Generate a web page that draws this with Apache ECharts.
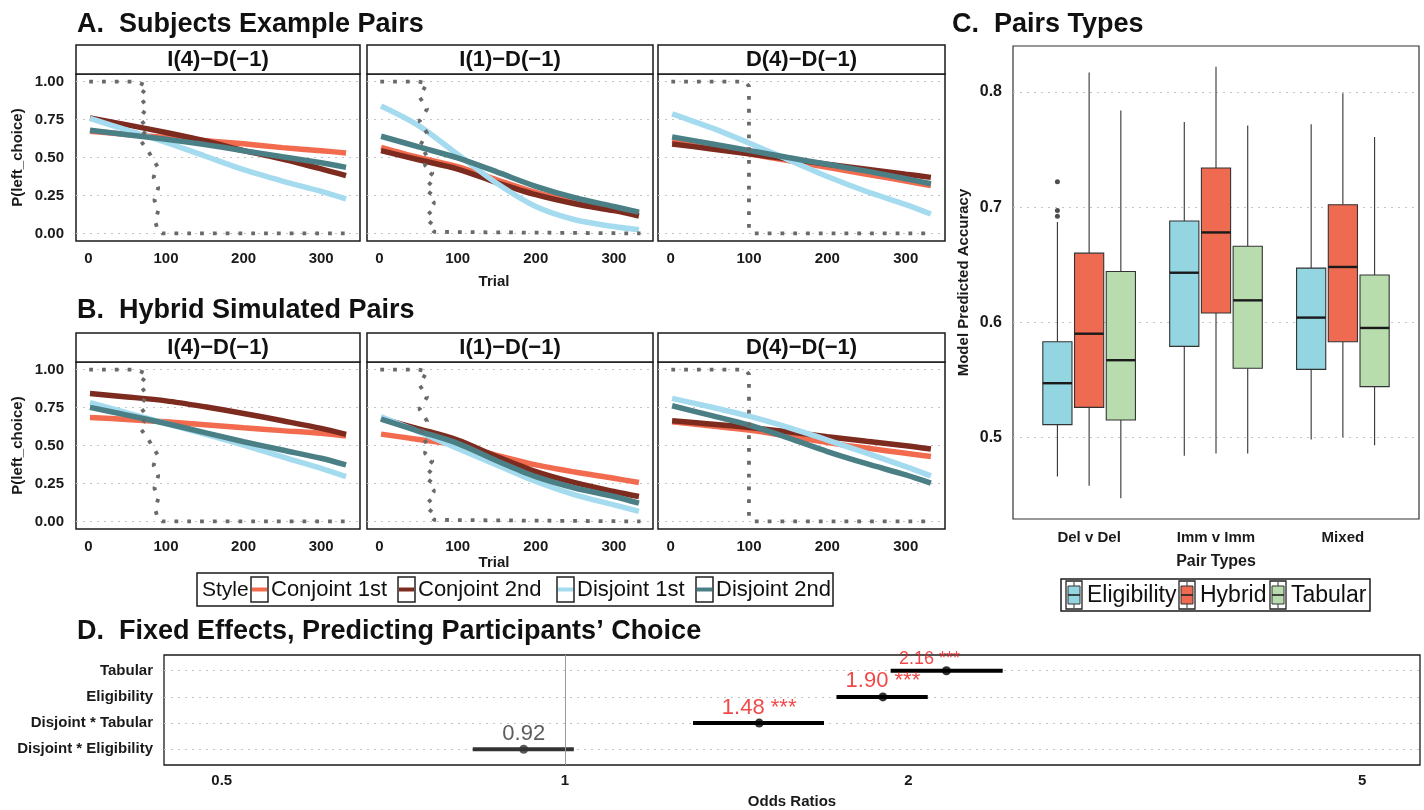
<!DOCTYPE html>
<html lang="en">
<head>
    <meta charset="UTF-8">
    <title>Pairs figure</title>
    <script src="https://cdn.jsdelivr.net/npm/echarts@6/dist/echarts.min.js"></script>
    <style>
        html, body, #main {
            margin: 0;
            width: 1424px;
            height: 810px;
            background: #fff;
        }
    </style>
</head>
<body>
<div id="main"></div>
<script>
    var FONT = "'Liberation Sans', Arial, Helvetica, sans-serif";

    // ---- panels A / B ----
    var facets = ['I(4)\u2212D(\u22121)', 'I(1)\u2212D(\u22121)', 'D(4)\u2212D(\u22121)'];
    var styles = ['Conjoint 1st', 'Conjoint 2nd', 'Disjoint 1st', 'Disjoint 2nd'];
    var styleColors = ['#f26b4f', '#7e2b1f', '#a5dbef', '#4b7f86'];
    var trials = [2, 50, 100, 150, 200, 250, 300, 332];
    var trialTicks = [0, 100, 200, 300];
    var probTicks = [0, 0.25, 0.5, 0.75, 1];

    // P(left_choice) at each trial, one row per style
    var subjectsI4 = [
        [0.673, 0.652, 0.632, 0.61, 0.59, 0.565, 0.545, 0.53],
        [0.76, 0.715, 0.665, 0.61, 0.545, 0.49, 0.425, 0.38],
        [0.757, 0.68, 0.60, 0.51, 0.42, 0.345, 0.277, 0.227],
        [0.68, 0.65, 0.62, 0.585, 0.545, 0.505, 0.465, 0.435]
    ];
    var subjectsI1 = [
        [0.567, 0.50, 0.44, 0.353, 0.27, 0.21, 0.166, 0.132],
        [0.545, 0.485, 0.424, 0.335, 0.255, 0.195, 0.15, 0.115],
        [0.839, 0.71, 0.52, 0.33, 0.177, 0.09, 0.045, 0.024],
        [0.64, 0.57, 0.497, 0.405, 0.31, 0.235, 0.177, 0.14]
    ];
    var subjectsD4 = [
        [0.611, 0.567, 0.524, 0.48, 0.435, 0.39, 0.345, 0.316],
        [0.589, 0.558, 0.524, 0.49, 0.456, 0.423, 0.39, 0.369],
        [0.788, 0.70, 0.596, 0.486, 0.375, 0.276, 0.19, 0.128],
        [0.636, 0.592, 0.547, 0.50, 0.455, 0.41, 0.36, 0.327]
    ];
    var hybridI4 = [
        [0.685, 0.671, 0.656, 0.637, 0.617, 0.598, 0.58, 0.562],
        [0.842, 0.82, 0.794, 0.755, 0.711, 0.663, 0.613, 0.573],
        [0.783, 0.715, 0.645, 0.575, 0.503, 0.425, 0.35, 0.295],
        [0.751, 0.70, 0.645, 0.585, 0.525, 0.47, 0.416, 0.372]
    ];
    var hybridI1 = [
        [0.575, 0.54, 0.503, 0.435, 0.372, 0.325, 0.284, 0.256],
        [0.678, 0.61, 0.536, 0.427, 0.328, 0.255, 0.197, 0.164],
        [0.689, 0.59, 0.481, 0.372, 0.263, 0.175, 0.109, 0.066],
        [0.674, 0.595, 0.514, 0.40, 0.295, 0.22, 0.164, 0.12]
    ];
    var hybridD4 = [
        [0.656, 0.63, 0.602, 0.562, 0.519, 0.483, 0.449, 0.427],
        [0.663, 0.642, 0.619, 0.59, 0.558, 0.528, 0.499, 0.477],
        [0.81, 0.755, 0.694, 0.62, 0.536, 0.45, 0.361, 0.30],
        [0.762, 0.70, 0.635, 0.55, 0.46, 0.38, 0.306, 0.252]
    ];

    // observed choices (dotted), [trial, choice]
    var choiceI4 = [[1, 1], [62, 1], [66, 0.99], [76, 0.97], [66, 0.9], [76, 0.83], [66, 0.76], [76, 0.69],
        [66, 0.62], [76, 0.55], [82, 0.5], [89, 0.44], [84, 0.37], [90, 0.3], [85, 0.22], [90, 0.15],
        [86, 0.08], [90, 0.01], [95, 0], [334, 0]];
    var choiceI1 = [[1, 1], [50, 1], [61, 0.99], [51, 0.9], [61, 0.82], [51, 0.74], [61, 0.66], [52, 0.58],
        [62, 0.5], [58, 0.45], [68, 0.4], [60, 0.35], [70, 0.3], [62, 0.25], [70, 0.2], [62, 0.15],
        [70, 0.1], [62, 0.05], [70, 0.01], [72, 0], [334, 0]];
    var choiceD4 = [[1, 1], [95, 1], [100, 0.97], [100, 0.03], [105, 0], [334, 0]];

    // ---- panel C ----
    var pairTypes = ['Del v Del', 'Imm v Imm', 'Mixed'];
    var models = ['Eligibility', 'Hybrid', 'Tabular'];
    var modelColors = ['#93d5e0', '#ee6a50', '#b8dcad'];
    // [min, Q1, median, Q3, max] per pair type
    var eligibilityBox = [[0.466, 0.511, 0.547, 0.583, 0.687], [0.484, 0.579, 0.643, 0.688, 0.774], [0.498, 0.559, 0.604, 0.647, 0.772]];
    var hybridBox = [[0.458, 0.526, 0.590, 0.660, 0.817], [0.486, 0.608, 0.678, 0.734, 0.822], [0.500, 0.583, 0.648, 0.702, 0.799]];
    var tabularBox = [[0.447, 0.515, 0.567, 0.644, 0.784], [0.486, 0.560, 0.619, 0.666, 0.771], [0.493, 0.544, 0.595, 0.641, 0.761]];
    var eligibilityOutliers = [0.722, 0.697, 0.692];
    var accTicks = [0.5, 0.6, 0.7, 0.8];

    // ---- panel D ----
    var effectNames = ['Tabular', 'Eligibility', 'Disjoint * Tabular', 'Disjoint * Eligibility'];
    var oddsRatios = [2.16, 1.90, 1.48, 0.92];
    var ciLow = [1.93, 1.73, 1.295, 0.83];
    var ciHigh = [2.42, 2.08, 1.687, 1.018];
    var signif = ['***', '***', '***', ''];
    var orTicks = [0.5, 1, 2, 5];

    var facetData = [subjectsI4, subjectsI1, subjectsD4, hybridI4, hybridI1, hybridD4];
    var choiceData = [choiceI4, choiceI1, choiceD4, choiceI4, choiceI1, choiceD4];
    var facetGrids = [
        {left: 76, top: 74, width: 284, height: 167},
        {left: 367, top: 74, width: 286, height: 167},
        {left: 658, top: 74, width: 287, height: 167},
        {left: 76, top: 362, width: 284, height: 167},
        {left: 367, top: 362, width: 286, height: 167},
        {left: 658, top: 362, width: 287, height: 167}
    ];

    var boldLabel = function (size) {
        return {fontSize: size, fontWeight: 'bold', color: '#1a1a1a', fontFamily: FONT};
    };
    var dotted = {color: '#c4c4c4', type: [2, 5], width: 1.2};

    var grids = [], xAxes = [], yAxes = [], series = [], graphic = [];

    facetGrids.forEach(function (g, i) {
        grids.push({left: g.left, top: g.top, width: g.width, height: g.height, show: true,
            borderColor: '#1a1a1a', borderWidth: 1.5, backgroundColor: 'transparent', outerBoundsMode: 'none'});
        var isTrial = (i === 1 || i === 4);
        xAxes.push({
            type: 'value', gridIndex: i, min: -16, max: 350,
            axisLine: {show: false}, axisTick: {show: false, customValues: trialTicks},
            splitLine: {show: false},
            axisLabel: Object.assign({customValues: trialTicks, margin: 10}, boldLabel(15)),
            name: isTrial ? 'Trial' : '', nameLocation: 'middle', nameGap: i === 1 ? 33 : 21,
            nameTextStyle: Object.assign({padding: [0, 32, 0, 0]}, boldLabel(15))
        });
        var first = i % 3 === 0;
        yAxes.push({
            type: 'value', gridIndex: i, min: -0.05, max: 1.05,
            axisLine: {show: false}, axisTick: {show: false, customValues: probTicks},
            splitLine: {show: true, lineStyle: dotted},
            axisLabel: Object.assign({show: first, customValues: probTicks, margin: 12,
                formatter: function (v) { return v.toFixed(2); }}, boldLabel(15)),
            name: first ? 'P(left_choice)' : '', nameLocation: 'middle', nameGap: 51,
            nameTextStyle: boldLabel(15)
        });
        facetData[i].forEach(function (vals, s) {
            series.push({
                type: 'line', xAxisIndex: i, yAxisIndex: i, name: styles[s],
                data: trials.map(function (t, k) { return [t, vals[k]]; }),
                smooth: 0.3, showSymbol: false, silent: true,
                lineStyle: {color: styleColors[s], width: 5.5, cap: 'butt'}
            });
        });
        series.push({
            type: 'line', xAxisIndex: i, yAxisIndex: i, data: choiceData[i],
            showSymbol: false, silent: true, z: 3,
            lineStyle: {color: '#6a6a6a', width: 3.8, type: [3.8, 9], cap: 'butt'}
        });
        // facet strip
        graphic.push({type: 'rect', shape: {x: g.left, y: g.top - 29, width: g.width, height: 29},
            style: {fill: '#fff', stroke: '#1a1a1a', lineWidth: 1.5}});
        graphic.push({type: 'text', x: g.left + g.width / 2, y: g.top - 14, style: {
            text: facets[i % 3], fontSize: 22, fontWeight: 'bold', fontFamily: FONT, fill: '#111',
            align: 'center', verticalAlign: 'middle'}});
    });

    // ---- panel C: box plots ----
    grids.push({left: 1013, top: 46, width: 406, height: 473, show: true, borderColor: '#333',
        borderWidth: 1.2, backgroundColor: 'transparent', outerBoundsMode: 'none'});
    xAxes.push({
        type: 'value', gridIndex: 6, min: 0.4, max: 3.6,
        axisLine: {show: false}, axisTick: {show: false, customValues: [1, 2, 3]}, splitLine: {show: false},
        axisLabel: Object.assign({customValues: [1, 2, 3], margin: 11,
            formatter: function (v) { return pairTypes[Math.round(v) - 1]; }}, boldLabel(15)),
        name: 'Pair Types', nameLocation: 'middle', nameGap: 35, nameTextStyle: boldLabel(16)
    });
    yAxes.push({
        type: 'value', gridIndex: 6, min: 0.429, max: 0.84,
        axisLine: {show: false}, axisTick: {show: false, customValues: accTicks},
        splitLine: {show: true, lineStyle: dotted},
        axisLabel: Object.assign({customValues: accTicks, margin: 11,
            formatter: function (v) { return v.toFixed(1); }}, boldLabel(16)),
        name: 'Model Predicted Accuracy', nameLocation: 'middle', nameGap: 42, nameTextStyle: boldLabel(15)
    });
    var dodge = [-0.25, 0, 0.25];
    var boxWidth = 0.23;
    [eligibilityBox, hybridBox, tabularBox].forEach(function (boxes, m) {
        series.push({
            type: 'custom', name: models[m], xAxisIndex: 6, yAxisIndex: 6, silent: true,
            data: boxes.map(function (b, k) { return [k + 1 + dodge[m]].concat(b); }),
            encode: {x: 0, y: [1, 2, 3, 4, 5]},
            renderItem: function (params, api) {
                var x = api.value(0);
                var p = [1, 2, 3, 4, 5].map(function (d) { return api.coord([x, api.value(d)]); });
                var w = api.size([boxWidth, 0])[0];
                var cx = p[0][0];
                return {type: 'group', children: [
                    {type: 'line', shape: {x1: cx, y1: p[0][1], x2: cx, y2: p[1][1]}, style: {stroke: '#333', lineWidth: 1.1}},
                    {type: 'line', shape: {x1: cx, y1: p[3][1], x2: cx, y2: p[4][1]}, style: {stroke: '#333', lineWidth: 1.1}},
                    {type: 'rect', shape: {x: cx - w / 2, y: p[3][1], width: w, height: p[1][1] - p[3][1]},
                        style: {fill: modelColors[m], stroke: '#333', lineWidth: 1.1}},
                    {type: 'line', shape: {x1: cx - w / 2, y1: p[2][1], x2: cx + w / 2, y2: p[2][1]},
                        style: {stroke: '#1a1a1a', lineWidth: 2.4}}
                ]};
            }
        });
    });
    series.push({
        type: 'scatter', xAxisIndex: 6, yAxisIndex: 6, silent: true, symbolSize: 5,
        itemStyle: {color: '#222'},
        data: eligibilityOutliers.map(function (v) { return [1 + dodge[0], v]; })
    });

    // ---- panel D: odds ratios ----
    grids.push({left: 164, top: 655, width: 1256, height: 110, show: true, borderColor: '#1a1a1a',
        borderWidth: 1.3, backgroundColor: 'transparent', outerBoundsMode: 'none'});
    xAxes.push({
        type: 'log', logBase: 10, gridIndex: 7, min: 0.445, max: 5.62,
        axisLine: {show: false}, axisTick: {show: false, customValues: orTicks}, splitLine: {show: false},
        axisLabel: Object.assign({customValues: orTicks, margin: 8,
            formatter: function (v) { return String(v); }}, boldLabel(15)),
        name: 'Odds Ratios', nameLocation: 'middle', nameGap: 29, nameTextStyle: boldLabel(15)
    });
    yAxes.push({
        type: 'value', gridIndex: 7, min: 0.4, max: 4.6,
        axisLine: {show: false}, axisTick: {show: false, customValues: [1, 2, 3, 4]},
        splitLine: {show: true, lineStyle: dotted},
        axisLabel: Object.assign({customValues: [1, 2, 3, 4], margin: 11,
            formatter: function (v) { return effectNames[4 - Math.round(v)]; }}, boldLabel(15))
    });
    series.push({
        type: 'custom', xAxisIndex: 7, yAxisIndex: 7, silent: true,
        data: effectNames.map(function (n, k) { return [ciLow[k], ciHigh[k], 4 - k, signif[k] ? 1 : 0]; }),
        encode: {x: [0, 1], y: 2},
        renderItem: function (params, api) {
            var a = api.coord([api.value(0), api.value(2)]);
            var b = api.coord([api.value(1), api.value(2)]);
            return {type: 'line', shape: {x1: a[0], y1: a[1], x2: b[0], y2: b[1]},
                style: {stroke: api.value(3) ? '#000' : '#333', lineWidth: 4}};
        }
    });
    series.push({
        type: 'scatter', xAxisIndex: 7, yAxisIndex: 7, silent: true, symbolSize: 9, z: 4,
        data: oddsRatios.map(function (v, k) {
            var sig = !!signif[k];
            return {
                value: [v, 4 - k],
                itemStyle: {color: sig ? '#000' : '#333'},
                label: {
                    show: true, position: 'top', distance: 0,
                    offset: k === 0 ? [-17, 2] : [0, 0],
                    formatter: v.toFixed(2) + (sig ? ' ' + signif[k] : ''),
                    fontSize: k === 0 ? 18 : 22, fontFamily: FONT,
                    color: sig ? '#ee1c1c' : '#333'
                }
            };
        }),
        markLine: {
            silent: true, symbol: ['none', 'none'], label: {show: false},
            lineStyle: {color: '#9a9a9a', width: 1, type: 'solid'},
            data: [{xAxis: 1}]
        }
    });

    // ---- legends ----
    graphic.push({type: 'rect', shape: {x: 197, y: 573, width: 636, height: 33},
        style: {fill: '#fff', stroke: '#1a1a1a', lineWidth: 1.5}});
    graphic.push({type: 'text', x: 202, y: 590, style: {text: 'Style', fontSize: 21, fontFamily: FONT,
        fill: '#111', align: 'left', verticalAlign: 'middle'}});
    var styleKeyX = [251, 398, 557, 696];
    styles.forEach(function (s, k) {
        var x = styleKeyX[k];
        graphic.push({type: 'rect', shape: {x: x, y: 577, width: 17, height: 25},
            style: {fill: '#fff', stroke: '#222', lineWidth: 1.5}});
        graphic.push({type: 'line', shape: {x1: x + 1, y1: 589.5, x2: x + 16, y2: 589.5},
            style: {stroke: styleColors[k], lineWidth: 4}});
        graphic.push({type: 'text', x: x + 20, y: 590, style: {text: s, fontSize: 22, fontFamily: FONT,
            fill: '#111', align: 'left', verticalAlign: 'middle'}});
    });

    graphic.push({type: 'rect', shape: {x: 1061, y: 579, width: 309, height: 32},
        style: {fill: '#fff', stroke: '#1a1a1a', lineWidth: 1.5}});
    var modelKeyX = [1066, 1179, 1270];
    models.forEach(function (m, k) {
        var x = modelKeyX[k];
        graphic.push({type: 'rect', shape: {x: x, y: 581, width: 16, height: 28},
            style: {fill: '#fff', stroke: '#222', lineWidth: 1.3}});
        graphic.push({type: 'line', shape: {x1: x + 8, y1: 582, x2: x + 8, y2: 608},
            style: {stroke: '#333', lineWidth: 1}});
        graphic.push({type: 'rect', shape: {x: x + 2, y: 586, width: 12, height: 18},
            style: {fill: modelColors[k], stroke: '#333', lineWidth: 1}});
        graphic.push({type: 'line', shape: {x1: x + 2, y1: 595, x2: x + 14, y2: 595},
            style: {stroke: '#222', lineWidth: 1.6}});
        graphic.push({type: 'text', x: x + 21, y: 596, style: {text: m, fontSize: 23, fontFamily: FONT,
            fill: '#111', align: 'left', verticalAlign: 'middle'}});
    });

    var titleStyle = {fontSize: 27, fontWeight: 'bold', color: '#111', fontFamily: FONT};
    var chart = echarts.init(document.getElementById('main'), null, {renderer: 'canvas'});
    chart.setOption({
        animation: false,
        backgroundColor: '#fff',
        title: [
            {text: 'A.  Subjects Example Pairs', left: 77, top: 11, padding: 0, textStyle: titleStyle},
            {text: 'B.  Hybrid Simulated Pairs', left: 77, top: 297, padding: 0, textStyle: titleStyle},
            {text: 'C.  Pairs Types', left: 952, top: 11, padding: 0, textStyle: titleStyle},
            {text: 'D.  Fixed Effects, Predicting Participants\u2019 Choice', left: 77, top: 618, padding: 0, textStyle: titleStyle}
        ],
        grid: grids,
        xAxis: xAxes,
        yAxis: yAxes,
        series: series,
        graphic: graphic
    });
</script>
</body>
</html>
